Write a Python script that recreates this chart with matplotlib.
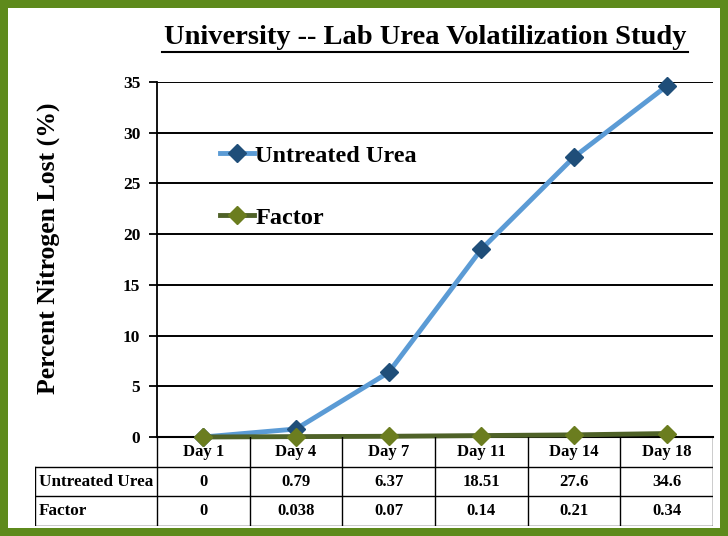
import matplotlib
matplotlib.use("Agg")
import matplotlib.pyplot as plt
from matplotlib.patches import Rectangle
from matplotlib.lines import Line2D

plt.rcParams['font.family'] = ['Liberation Serif', 'DejaVu Serif']
plt.rcParams['font.weight'] = 'bold'

title = "University -- Lab Urea Volatilization Study"
ylabel = "Percent Nitrogen Lost (%)"
days = ["Day 1", "Day 4", "Day 7", "Day 11", "Day 14", "Day 18"]
untreated = [0, 0.79, 6.37, 18.51, 27.6, 34.6]
factor = [0, 0.038, 0.07, 0.14, 0.21, 0.34]
untreated_txt = ["0", "0.79", "6.37", "18.51", "27.6", "34.6"]
factor_txt = ["0", "0.038", "0.07", "0.14", "0.21", "0.34"]
series_names = ["Untreated Urea", "Factor"]
yticks = [0, 5, 10, 15, 20, 25, 30, 35]

W, H = 728, 536
fig = plt.figure(figsize=(W / 100, H / 100), dpi=100)
fig.patch.set_facecolor('white')

x0, x1, ytop, y0 = 157, 713, 82, 437
ax = fig.add_axes([x0 / W, 1 - y0 / H, (x1 - x0) / W, (y0 - ytop) / H])
n = len(days)
xs = list(range(n))
ax.set_xlim(-0.5, n - 0.5)
ax.set_ylim(0, 35)
ax.set_yticks(yticks)
ax.set_yticklabels([str(v) for v in yticks], fontsize=12.5, fontweight='bold')
ax.tick_params(axis='y', length=6, width=1.3, pad=6)
ax.set_xticks([])
for s in ['top', 'right']:
    ax.spines[s].set_visible(False)
ax.spines['left'].set_linewidth(1.3)
ax.spines['bottom'].set_linewidth(1.5)
for v in yticks[1:]:
    ax.axhline(v, color='black', lw=1.4, zorder=1)
fig.text(48 / W, 1 - 248 / H, ylabel, rotation=90, ha='center', va='center',
         fontsize=18.5, fontweight='bold')

blue_line = '#5b9bd5'
blue_mark = '#1f4e79'
green_line = '#4f6228'
green_mark = '#6b7d1f'
ax.plot(xs, untreated, color=blue_line, lw=3.5, marker='D', ms=9,
        mfc=blue_mark, mec=blue_mark, zorder=3, clip_on=False, label=series_names[0])
ax.plot(xs, factor, color=green_line, lw=3.5, marker='D', ms=9,
        mfc=green_mark, mec=green_mark, zorder=4, clip_on=False, label=series_names[1])
leg = ax.legend(loc='upper left', bbox_to_anchor=(0.074, 0.885), frameon=False,
                prop={'family': 'Liberation Serif', 'weight': 'bold', 'size': 17.5},
                handlelength=1.4, handletextpad=0.05, labelspacing=1.65)

fig.text(425 / W, 1 - 38 / H, title, ha='center', va='center', fontsize=20.5,
         fontweight='bold')
# underline
fig.add_artist(Line2D([162 / W, 688 / W], [1 - 51.5 / H, 1 - 51.5 / H], color='black', lw=1.5))

# table
tx0 = 35
unit = (x1 - x0) / n
tab = fig.add_axes([tx0 / W, 1 - 526 / H, (x1 - tx0) / W, (526 - 437) / H])
tab.set_xlim(-0.5 - (x0 - tx0) / unit, n - 0.5)
tab.set_ylim(0, 3)
tab.axis('off')
lk = dict(color='black', lw=1.0)
lab_left = -0.5 - (x0 - tx0) / unit
for i in range(n + 1):
    tab.plot([i - 0.5, i - 0.5], [0, 3], **lk)
tab.plot([lab_left, lab_left], [0, 2], **lk)
for yy in [0, 1, 2]:
    tab.plot([lab_left, n - 0.5], [yy, yy], **lk)
for i, d in enumerate(days):
    tab.text(i, 2.5, d, ha='center', va='center', fontsize=12, fontweight='bold')
    tab.text(i, 1.5, untreated_txt[i], ha='center', va='center', fontsize=12, fontweight='bold')
    tab.text(i, 0.5, factor_txt[i], ha='center', va='center', fontsize=12, fontweight='bold')
tab.text(lab_left + 0.04, 1.5, series_names[0], ha='left', va='center', fontsize=12.3, fontweight='bold')
tab.text(lab_left + 0.04, 0.5, series_names[1], ha='left', va='center', fontsize=12.3, fontweight='bold')

# green border
bw = 8
fig.add_artist(Rectangle((bw / 2 / W, bw / 2 / H), 1 - bw / W, 1 - bw / H,
                         transform=fig.transFigure, fill=False,
                         edgecolor='#5e8a1c', lw=bw * 0.72))

fig.savefig('out.png', dpi=100)
